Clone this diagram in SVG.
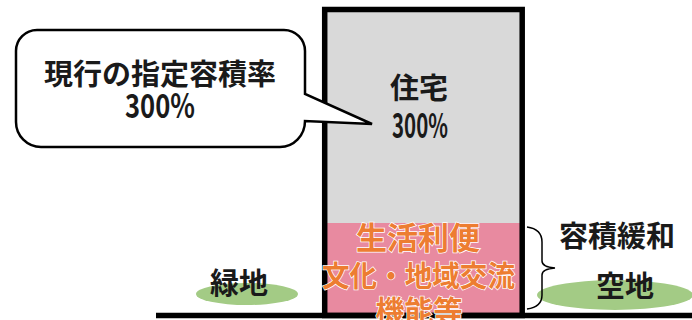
<svg xmlns="http://www.w3.org/2000/svg" width="692" height="320" viewBox="0 0 692 320">
<style>
text{font-family:"Noto Sans CJK JP","Noto Sans",sans-serif;font-weight:bold;text-anchor:middle}
.blk{fill:#1a1a1a;font-size:29px}
.num{fill:#1a1a1a;font-size:33px}
.org{fill:#ed7d31;stroke:#ffffff;stroke-width:1.5px;paint-order:stroke;font-size:29px}
.green{fill:#a3cb85}
</style>
<rect width="692" height="320" fill="#ffffff"/>
<g id="building">
<rect x="325" y="9.5" width="197.5" height="306" fill="#d9d9d9"/>
<rect x="327" y="223" width="193" height="91" fill="#e88aa0"/>
<rect x="324.7" y="9.5" width="197.5" height="306" fill="none" stroke="#000" stroke-width="5.5"/>
</g>
<g id="ground">
<line x1="156" y1="315.5" x2="692" y2="315.5" stroke="#000" stroke-width="5.5"/>
</g>
<g id="greenery">
<ellipse class="green" cx="247" cy="294" rx="51" ry="11"/>
<text class="blk" x="239" y="294">緑地</text>
</g>
<g id="openspace">
<ellipse class="green" cx="615" cy="295" rx="78" ry="15"/>
<text class="blk" x="625" y="297">空地</text>
</g>
<g id="callout">
<path d="M37,30 H284 A21,21 0 0 1 305,51 V94 L372,124 L305,121 A25,26 0 0 1 280,147 H41 A25,25 0 0 1 16,122 V51 A21,21 0 0 1 37,30 Z" fill="#fff" stroke="#000" stroke-width="2.5" stroke-linejoin="miter"/>
<text class="blk" x="160" y="85">現行の指定容積率</text>
<text class="num" x="160" y="118" textLength="70" lengthAdjust="spacingAndGlyphs">300%</text>
</g>
<g id="residential">
<text class="blk" x="419" y="99">住宅</text>
<text class="num" x="420" y="138" style="font-size:34px" textLength="56" lengthAdjust="spacingAndGlyphs">300%</text>
</g>
<g id="facilities">
<text class="org" x="418" y="249" style="font-size:31px">生活利便</text>
<text class="org" x="418.5" y="287" textLength="193" lengthAdjust="spacingAndGlyphs">文化・地域交流</text>
<text class="org" x="419" y="322">機能等</text>
</g>
<g id="relaxation">
<path d="M527,227 Q542,229 542,242 V261 Q542,267 555,268 Q542,269 542,275 V295 Q542,307 527,309" fill="none" stroke="#000" stroke-width="1.5"/>
<text class="blk" x="617" y="247">容積緩和</text>
</g>
</svg>
